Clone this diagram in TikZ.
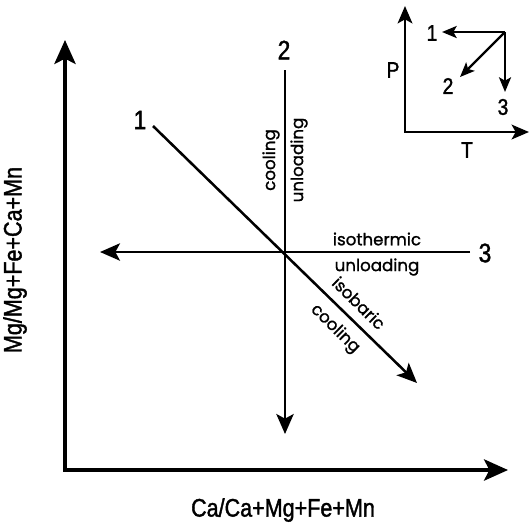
\documentclass[tikz,border=0pt]{standalone}
\usepackage{fontspec}
\setmainfont{Poppins}
\newfontfamily\labfont[FakeBold=1.2]{Poppins}
\newfontfamily\cond[FakeStretch=0.85,FakeBold=1.5]{Liberation Sans}
\usetikzlibrary{arrows.meta}
\begin{document}
\begin{tikzpicture}[x=0.75pt,y=-0.75pt,
  axis/.style={line width=2.3pt,line join=miter,{Stealth[length=18pt,width=16pt,inset=4pt]}-{Stealth[length=18pt,width=16pt,inset=4pt]}},
  trend/.style={line width=1.9pt,-{Stealth[length=15pt,width=13pt,inset=3.5pt]}},
  saxis/.style={line width=1.9pt,line join=miter,{Stealth[length=13pt,width=11pt,inset=3pt]}-{Stealth[length=13pt,width=11pt,inset=3pt]}},
  strend/.style={line width=1.8pt,-{Stealth[length=11pt,width=9pt,inset=2.5pt]}},
  num/.style={font=\cond\fontsize{20}{20}\selectfont,inner sep=0pt},
  snum/.style={font=\cond\fontsize{17}{17}\selectfont,inner sep=0pt},
  lab/.style={font=\labfont\fontsize{12.5}{12.5}\selectfont,inner sep=0.5pt},
  axlab/.style={font=\cond\fontsize{19}{19}\selectfont,inner sep=0pt}
]
\useasboundingbox (0,0) rectangle (530,522);
% main axes
\coordinate (O) at (65,470);
\coordinate (ytip) at (65,40);
\coordinate (xtip) at (508,470);
\draw[axis] (ytip) -- (O) -- (xtip);
\node[axlab] (xlab) at (283,510) {Ca/Ca+Mg+Fe+Mn};
\node[axlab,rotate=90] (ylab) at (15,260) {Mg/Mg+Fe+Ca+Mn};
% trends
\coordinate (C) at (285,252);
\coordinate (s1) at (153,126);
\coordinate (e1) at (417,383);
\coordinate (s2) at (285,70);
\coordinate (e2) at (285,434);
\coordinate (s3) at (470,252);
\coordinate (e3) at (100,252);
\draw[trend] (s1) -- (e1);
\draw[trend] (s2) -- (e2);
\draw[trend] (s3) -- (e3);
\node[num] (n1) at (140,120) {1};
\node[num] (n2) at (284,50) {2};
\node[num] (n3) at (485,253) {3};
\node[lab,rotate=90] (cool2) at (271,160) {cooling};
\node[lab,rotate=90] (unl2) at (299,160) {unloading};
\node[lab] (iso3) at (377,239) {isothermic};
\node[lab] (unl3) at (377,267) {unloading};
\node[lab,rotate=-44.5] (isob1) at (359,303) {isobaric};
\node[lab,rotate=-44.5] (cool1) at (335,329) {cooling};
% inset
\coordinate (O2) at (405,132);
\coordinate (ptip) at (405,6);
\coordinate (ttip) at (529,132);
\draw[saxis] (ptip) -- (O2) -- (ttip);
\coordinate (Q) at (505,32);
\coordinate (i1) at (442,32);
\coordinate (i2) at (460,77);
\coordinate (i3) at (505,92);
\draw[strend] (Q) -- (i1);
\draw[strend] (Q) -- (i2);
\draw[strend] (Q) -- (i3);
\node[snum] (m1) at (432,33) {1};
\node[snum] (m2) at (448,86) {2};
\node[snum] (m3) at (503,107) {3};
\node[snum] (P) at (393,70) {P};
\node[snum] (T) at (467,150) {T};
\end{tikzpicture}
\end{document}
